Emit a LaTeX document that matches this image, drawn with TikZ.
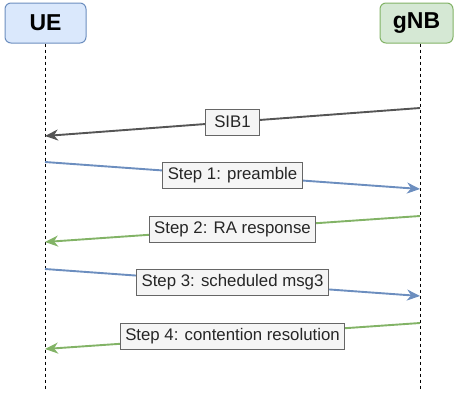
\documentclass[tikz,border=0pt]{standalone}
\usepackage{fontspec}
\setmainfont{Liberation Sans}
\usetikzlibrary{arrows.meta}
\definecolor{uefill}{HTML}{DAE8FC}
\definecolor{uedraw}{HTML}{6C8EBF}
\definecolor{gnbfill}{HTML}{D5E8D4}
\definecolor{gnbdraw}{HTML}{82B366}
\definecolor{msggray}{HTML}{555555}
\definecolor{labelfill}{HTML}{F5F5F5}
\definecolor{labeldraw}{HTML}{666666}

\begin{document}
\begin{tikzpicture}[x=1pt,y=-1pt,
        entity/.style={draw, rounded corners=6pt, line width=1pt, minimum height=40pt,
            font=\fontsize{23}{26}\selectfont\bfseries},
        lifeline/.style={line width=1pt, dash pattern=on 3pt off 3pt},
        msg/.style={line width=1.9pt, -{Stealth[length=13pt,width=11pt,inset=4pt]}},
        msglabel/.style={draw=labeldraw, fill=labelfill, line width=1pt, text=black!85,
            font=\fontsize{16.8}{19}\selectfont, inner xsep=5pt, inner ysep=0pt,
            minimum height=26pt, minimum width=54pt}]
            % Frame
            \useasboundingbox (0,0) rectangle (457,399);

            % Entities
            \node[entity, fill=uefill, draw=uedraw, minimum width=81pt] (ue) at (45.5,23) {UE};
            \node[entity, fill=gnbfill, draw=gnbdraw, minimum width=73pt] (gnb) at (416.5,23) {gNB};

            % Lifelines
            \coordinate (ueend) at (45,390);
            \coordinate (gnbend) at (420,390);
            \draw[lifeline] (ue.south -| ueend) -- (ueend);
            \draw[lifeline] (gnb.south -| gnbend) -- (gnbend);

            % Message points
            \coordinate (g0) at (420,108);  \coordinate (u0) at (45,136);
            \coordinate (u1) at (45,162);   \coordinate (g1) at (420,189);
            \coordinate (g2) at (420,216);  \coordinate (u2) at (45,242);
            \coordinate (u3) at (45,269);   \coordinate (g3) at (420,296);
            \coordinate (g4) at (420,323);  \coordinate (u4) at (45,349);

            % Messages
            \draw[msg, msggray] (g0) -- node[msglabel] (sib) {SIB1} (u0);
            \draw[msg, uedraw] (u1) -- node[msglabel] (step1) {Step 1: preamble} (g1);
            \draw[msg, gnbdraw] (g2) -- node[msglabel] (step2) {Step 2: RA response} (u2);
            \draw[msg, uedraw] (u3) -- node[msglabel] (step3) {Step 3: scheduled msg3} (g3);
            \draw[msg, gnbdraw] (g4) -- node[msglabel] (step4) {Step 4: contention resolution} (u4);
        \end{tikzpicture}
\end{document}
